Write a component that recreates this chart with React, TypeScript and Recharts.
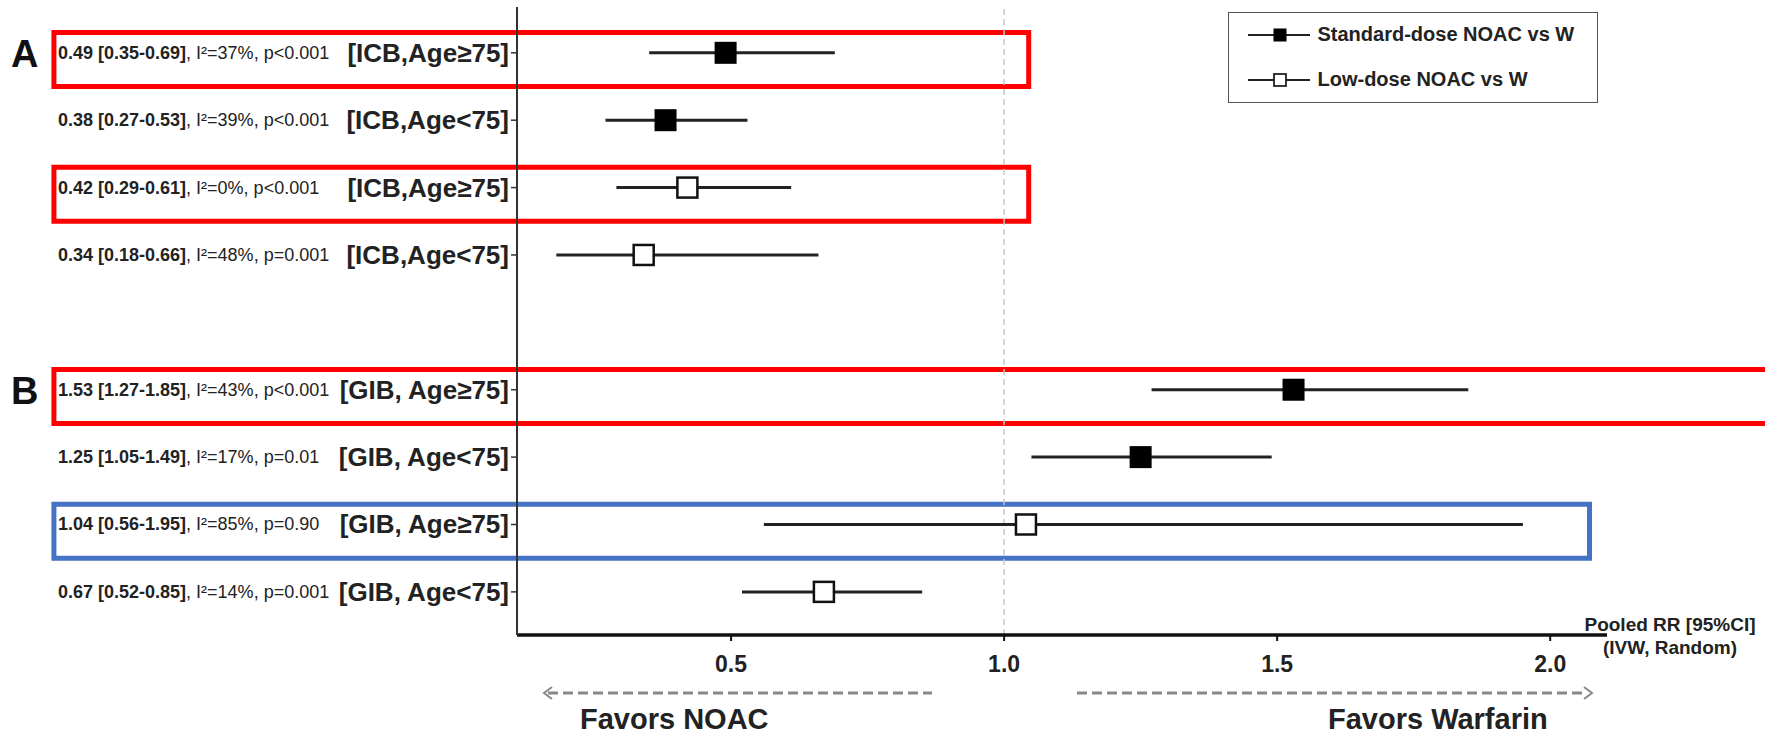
import React from 'react';
import {
  ScatterChart,
  Scatter,
  XAxis,
  YAxis,
  ErrorBar,
  ReferenceLine,
  ReferenceArea,
  Legend,
} from 'recharts';

// rows top to bottom; slot 4 is the gap between panel A and panel B
const rowPos = [0, 1, 2, 3, 5, 6, 7, 8];
const rowLabels = [
  '[ICB,Age≥75]',
  '[ICB,Age<75]',
  '[ICB,Age≥75]',
  '[ICB,Age<75]',
  '[GIB, Age≥75]',
  '[GIB, Age<75]',
  '[GIB, Age≥75]',
  '[GIB, Age<75]',
];
const rr = [0.49, 0.38, 0.42, 0.34, 1.53, 1.25, 1.04, 0.67];
const ciLow = [0.35, 0.27, 0.29, 0.18, 1.27, 1.05, 0.56, 0.52];
const ciHigh = [0.69, 0.53, 0.61, 0.66, 1.85, 1.49, 1.95, 0.85];
const i2 = ['37%', '39%', '0%', '48%', '43%', '17%', '85%', '14%'];
const pText = ['p<0.001', 'p<0.001', 'p<0.001', 'p=0.001', 'p<0.001', 'p=0.01', 'p=0.90', 'p=0.001'];
const doseGroup = ['std', 'std', 'low', 'low', 'std', 'std', 'low', 'low'];
const seriesNames = ['Standard-dose NOAC vs W', 'Low-dose NOAC vs W'];
const xTicks = [0.5, 1.0, 1.5, 2.0];

const FONT = '"Liberation Sans", Arial, Helvetica, sans-serif';

const points = rowPos.map((row, i) => ({
  row,
  rr: rr[i],
  err: [rr[i] - ciLow[i], ciHigh[i] - rr[i]],
  group: doseGroup[i],
}));
const stdPoints = points.filter((p) => p.group === 'std');
const lowPoints = points.filter((p) => p.group === 'low');

// highlight frames drawn by the authors, in axis units
const frames = [
  { row: 0, from: -0.74, to: 1.045, color: '#ff0000' },
  { row: 2, from: -0.74, to: 1.045, color: '#ff0000' },
  { row: 5, from: -0.74, to: 2.7, color: '#ff0000' },
  { row: 7, from: -0.74, to: 2.072, color: '#4472c4' },
];

const FilledSquare = (props: any) => (
  <rect x={props.cx - 11} y={props.cy - 11} width={22} height={22} fill="#000" />
);

const OpenSquare = (props: any) => (
  <rect
    x={props.cx - 10}
    y={props.cy - 10}
    width={20}
    height={20}
    fill="#fff"
    stroke="#111"
    strokeWidth={2.5}
  />
);

const RowTick = (props: any) => {
  const { x, y, payload } = props;
  const i = rowPos.indexOf(payload.value);
  if (i < 0) return null;
  return (
    <g fontFamily={FONT} fill="#222">
      <text x={58} y={y} dy={6} fontSize={18}>
        <tspan fontWeight="bold">{`${rr[i].toFixed(2)} [${ciLow[i].toFixed(2)}-${ciHigh[i].toFixed(2)}]`}</tspan>
        <tspan>{`, I²=${i2[i]}, ${pText[i]}`}</tspan>
      </text>
      <text x={x} y={y} dy={9} textAnchor="end" fontSize={26} fontWeight="bold">
        {rowLabels[i]}
      </text>
    </g>
  );
};

const ValueTick = (props: any) => {
  const { x, y, payload } = props;
  return (
    <text x={x} y={y} dy={29} textAnchor="middle" fontFamily={FONT} fontSize={23} fontWeight="bold" fill="#222">
      {Number(payload.value).toFixed(1)}
    </text>
  );
};

const LegendBox = () => (
  <div
    style={{
      width: 370,
      height: 91,
      boxSizing: 'border-box',
      border: '1.5px solid #555',
      position: 'relative',
      fontFamily: FONT,
      fontWeight: 'bold',
      fontSize: 20,
      color: '#222',
      background: '#fff',
    }}
  >
    {seriesNames.map((name, i) => (
      <div
        key={name}
        style={{ position: 'absolute', left: 18.5, top: i === 0 ? 8.5 : 53.5, height: 26, display: 'flex', alignItems: 'center', whiteSpace: 'nowrap' }}
      >
        <svg width={62} height={26}>
          <line x1={0} x2={62} y1={13} y2={13} stroke="#222" strokeWidth={2} />
          {i === 0 ? (
            <rect x={25.5} y={6.5} width={13} height={13} fill="#000" />
          ) : (
            <rect x={26} y={7} width={12} height={12} fill="#fff" stroke="#222" strokeWidth={1.8} />
          )}
        </svg>
        <span style={{ marginLeft: 8 }}>{name}</span>
      </div>
    ))}
  </div>
);

export default function App() {
  return (
    <div style={{ position: 'absolute', left: 0, top: 0, width: 1765, height: 736, background: '#fff' }}>
      <ScatterChart width={1765} height={736} margin={{ top: 7, right: 158, bottom: 71, left: 0 }}>
        <XAxis
          type="number"
          dataKey="rr"
          domain={[0.108, 2.104]}
          allowDataOverflow
          ticks={xTicks}
          height={30}
          axisLine={{ stroke: '#111', strokeWidth: 3.5 }}
          tickLine={{ stroke: '#111', strokeWidth: 2 }}
          tickSize={6}
          tick={<ValueTick />}
        />
        <YAxis
          type="number"
          dataKey="row"
          domain={[-0.68, 8.64]}
          allowDataOverflow
          reversed
          ticks={rowPos}
          interval={0}
          width={517}
          axisLine={{ stroke: '#333', strokeWidth: 2 }}
          tickLine={{ stroke: '#333', strokeWidth: 1.5 }}
          tickSize={6}
          tickMargin={2}
          tick={<RowTick />}
        />
        <ReferenceLine x={1} stroke="#c8c8c8" strokeWidth={1.5} strokeDasharray="6 4" />
        {frames.map((f) => (
          <ReferenceArea
            key={f.row}
            x1={f.from}
            x2={f.to}
            y1={f.row - 0.3}
            y2={f.row + 0.5}
            ifOverflow="visible"
            fill="none"
            fillOpacity={0}
            stroke={f.color}
            strokeWidth={5}
          />
        ))}
        <Scatter name={seriesNames[0]} data={stdPoints} shape={FilledSquare} isAnimationActive={false}>
          <ErrorBar dataKey="err" direction="x" width={0} stroke="#222" strokeWidth={3} />
        </Scatter>
        <Scatter name={seriesNames[1]} data={lowPoints} shape={OpenSquare} isAnimationActive={false}>
          <ErrorBar dataKey="err" direction="x" width={0} stroke="#222" strokeWidth={3} />
        </Scatter>
        <Legend
          layout="horizontal"
          verticalAlign="middle"
          align="center"
          content={<LegendBox />}
          wrapperStyle={{ position: 'absolute', left: 1228, top: 12, width: 370, height: 91 }}
        />
      </ScatterChart>
      <svg
        width={1765}
        height={736}
        style={{ position: 'absolute', left: 0, top: 0, pointerEvents: 'none' }}
        fontFamily={FONT}
        fontWeight="bold"
      >
        <text x={11} y={67} fontSize={38} fill="#111">A</text>
        <text x={11} y={404} fontSize={38} fill="#111">B</text>
        <text x={1670} y={631} fontSize={19} textAnchor="middle" fill="#222">Pooled RR [95%CI]</text>
        <text x={1670} y={654} fontSize={19} textAnchor="middle" fill="#222">(IVW, Random)</text>
        <g stroke="#888" strokeWidth={3} fill="none">
          <line x1={548} x2={932} y1={693} y2={693} strokeDasharray="10 5" />
          <polyline points="552,687 544,693 552,699" strokeWidth={2} />
          <line x1={1077} x2={1586} y1={693} y2={693} strokeDasharray="10 5" />
          <polyline points="1584,687 1592,693 1584,699" strokeWidth={2} />
        </g>
        <text x={580} y={729} fontSize={29} fill="#222">Favors NOAC</text>
        <text x={1328} y={729} fontSize={29} fill="#222">Favors Warfarin</text>
      </svg>
    </div>
  );
}
